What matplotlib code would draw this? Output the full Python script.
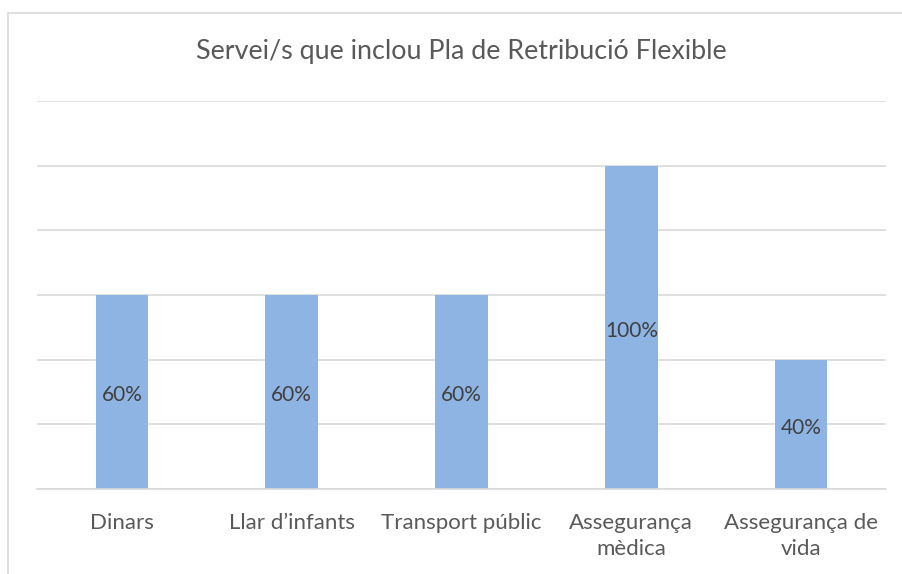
import matplotlib
matplotlib.use("Agg")
import matplotlib.pyplot as plt
from matplotlib.patches import Rectangle

categories = ["Dinars", "Llar d\u2019infants", "Transport públic", "Assegurança\nmèdica", "Assegurança de\nvida"]
values = [0.60, 0.60, 0.60, 1.00, 0.40]
labels = ["60%", "60%", "60%", "100%", "40%"]
title = "Servei/s que inclou Pla de Retribució Flexible"

plt.rcParams['font.family'] = ['Lato', 'DejaVu Sans']

fig = plt.figure(figsize=(9.03, 5.74), dpi=100)
ax = fig.add_axes([37 / 903, 1 - 489 / 574, (886 - 37) / 903, (489 - 101) / 574])

# chart border (right and bottom run off the picture)
fig.patches.append(Rectangle((8 / 903, -0.1), 1.0, 1 - 13 / 574 + 0.1,
                             transform=fig.transFigure, fill=False,
                             edgecolor='#d9d9d9', linewidth=1.2))

x = range(len(categories))
bars = ax.bar(x, values, width=0.31, color='#8eb4e3', zorder=2)

for b, lab in zip(bars, labels):
    ax.text(b.get_x() + b.get_width() / 2, b.get_height() / 2 - 0.01, lab,
            ha='center', va='center', fontsize=15, color='#404040', zorder=3)

ax.set_xlim(-0.5, len(categories) - 0.5)
ax.set_ylim(0, 1.2)
ax.set_yticks([0, 0.2, 0.4, 0.6, 0.8, 1.0, 1.2])
ax.yaxis.grid(True, color='#d9d9d9', linewidth=1.2, zorder=0)
ax.tick_params(axis='y', left=False, labelleft=False)
ax.tick_params(axis='x', length=0, pad=17, labelsize=16, labelcolor='#595959')
ax.set_xticks(list(x))
ax.set_xticklabels(categories, linespacing=1.4)
for s in ['top', 'right', 'left']:
    ax.spines[s].set_visible(False)
ax.spines['bottom'].set_color('#d9d9d9')
ax.spines['bottom'].set_linewidth(1.2)

fig.text(0.5 * (37 + 886) / 903, 1 - 52 / 574, title, ha='center', va='center',
         fontsize=19.4, color='#595959')

fig.savefig("out.png", dpi=100)
